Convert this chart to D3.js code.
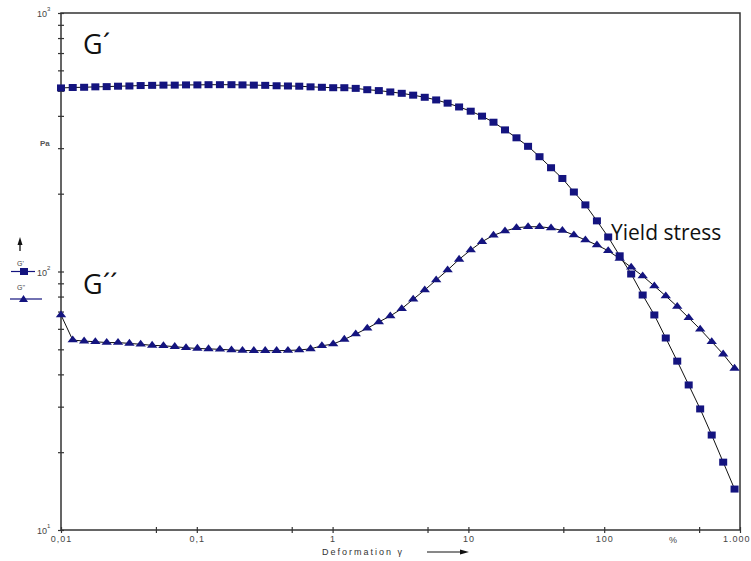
<!DOCTYPE html>
<html>
<head>
<meta charset="utf-8">
<script src="https://cdn.jsdelivr.net/npm/d3@7"></script>
<style>
  html, body { margin: 0; padding: 0; background: #fff; }
  svg { display: block; }
</style>
</head>
<body>
<svg id="chart" width="751" height="561"></svg>
<script>
// Strain amplitude sweep, deformation γ in %
const strain = [
  0.01, 0.0122, 0.0148, 0.0179, 0.0217, 0.0263, 0.0319, 0.0386, 0.0469, 0.0568, 0.0688, 0.0833,
  0.101, 0.122, 0.148, 0.180, 0.217, 0.263, 0.319, 0.387, 0.469, 0.568, 0.688, 0.834,
  1.01, 1.22, 1.48, 1.80, 2.19, 2.66, 3.23, 3.92, 4.77, 5.79, 7.03, 8.54,
  10.4, 12.6, 15.3, 18.6, 22.6, 27.5, 33.4, 40.6, 49.2, 59.8, 72.7, 88.4,
  107, 130, 158, 192, 234, 284, 345, 419, 509, 619, 752, 912
];

// Storage modulus G' in Pa
const gStorage = [
  513, 515, 516, 518, 519, 521, 522, 524, 525, 526, 526, 527,
  527, 528, 528, 528, 527, 526, 525, 523, 522, 521, 518, 516,
  514, 514, 511, 505, 501, 495, 489, 481, 472, 461, 448, 433,
  417, 399, 378, 353, 329, 305, 278, 252, 229, 203, 181, 157,
  136, 115, 97.8, 81.1, 67.9, 55.3, 45.0, 36.4, 29.4, 23.3, 18.3, 14.4
];

// Loss modulus G'' in Pa
const gLoss = [
  67.9, 54.3, 53.8, 53.5, 53.1, 53.1, 52.7, 52.3, 51.8, 51.6, 51.2, 50.7,
  50.4, 50.2, 50.0, 49.7, 49.5, 49.4, 49.4, 49.4, 49.5, 49.7, 50.2, 51.6,
  52.4, 54.6, 57.3, 60.3, 63.8, 67.3, 71.8, 78.1, 84.8, 92.7, 101.3, 111.4,
  121.1, 130.4, 138.0, 143.4, 147.7, 149.0, 149.0, 147.3, 144.1, 138.4, 132.4, 126.6,
  120.3, 112.2, 103.8, 96.1, 87.9, 80.4, 73.2, 66.2, 59.8, 53.5, 47.9, 42.2
];

// Axis ticks and labels
const xTicks = [0.01, 0.05, 0.1, 0.5, 1, 5, 10, 50, 100, 500, 1000];
const xTickLabels = { 0.01: "0,01", 0.1: "0,1", 1: "1", 10: "10", 100: "100", 1000: "1.000" };
const yTicks = [10, 20, 30, 40, 50, 60, 70, 80, 90, 100, 200, 300, 400, 500, 600, 700, 800, 900, 1000];
const yDecades = [10, 100, 1000];
const yDecadeExp = { 10: "1", 100: "2", 1000: "3" };

(function draw() {
  const markColor = "#14147f";
  const axisColor = "#333";

  const svg = d3.select("#chart");
  const plotL = 61, plotR = 740, plotT = 13, plotB = 530;

  const x = d3.scaleLog().domain([0.01, 1000]).range([plotL, plotR]);
  const y = d3.scaleLog().domain([10, 1000]).range([plotB, plotT]);

  const tickFont = "'Liberation Sans', Arial, sans-serif";

  // Plot frame
  svg.append("rect")
    .attr("x", plotL).attr("y", plotT)
    .attr("width", plotR - plotL).attr("height", plotB - plotT)
    .attr("fill", "none").attr("stroke", axisColor).attr("stroke-width", 1.5);

  // X axis
  const xAxis = svg.append("g")
    .attr("transform", `translate(0,${plotB})`)
    .call(d3.axisBottom(x).tickValues(xTicks).tickSize(3).tickFormat(d => xTickLabels[d] || ""));
  xAxis.select(".domain").remove();
  xAxis.selectAll(".tick line").attr("y1", -3).attr("y2", 3).attr("stroke", axisColor).attr("stroke-width", 1.2);
  xAxis.selectAll(".tick text")
    .attr("y", 6).attr("dy", "0.71em")
    .attr("font-family", tickFont).attr("font-size", 9).attr("letter-spacing", 1)
    .attr("fill", "#444");
  // the last label sits against the right edge
  xAxis.selectAll(".tick text").filter(d => d === 1000)
    .attr("text-anchor", "end").attr("x", 750 - plotR);

  svg.append("text")
    .attr("x", 673).attr("y", 543)
    .attr("text-anchor", "middle")
    .attr("font-family", tickFont).attr("font-size", 9).attr("fill", "#444")
    .text("%");

  // X axis title with arrow
  svg.append("text")
    .attr("x", 322).attr("y", 555)
    .attr("font-family", tickFont).attr("font-size", 9).attr("letter-spacing", 2)
    .attr("fill", "#333")
    .text("Deformation γ");
  svg.append("line")
    .attr("x1", 427).attr("x2", 462).attr("y1", 552).attr("y2", 552)
    .attr("stroke", "#111").attr("stroke-width", 1);
  svg.append("path")
    .attr("d", "M460,549.5 L469,552 L460,554.5 Z")
    .attr("fill", "#111");

  // Y axis
  const yAxis = svg.append("g")
    .attr("transform", `translate(${plotL},0)`)
    .call(d3.axisLeft(y).tickValues(yTicks).tickSize(3).tickFormat(""));
  yAxis.select(".domain").remove();
  yAxis.selectAll(".tick line").attr("x1", -3).attr("x2", 3).attr("stroke", axisColor).attr("stroke-width", 1.2);

  // Decade labels written as 10 with a raised exponent
  yDecades.forEach(v => {
    const t = svg.append("text")
      .attr("x", 37)
      .attr("y", y(v) + 4)
      .attr("font-family", tickFont).attr("font-size", 9).attr("fill", "#444");
    t.append("tspan").text("10");
    t.append("tspan").attr("dy", -6).attr("font-size", 6).text(yDecadeExp[v]);
  });

  // Unit
  svg.append("text")
    .attr("x", 40).attr("y", 146)
    .attr("font-family", tickFont).attr("font-size", 8).attr("font-weight", "bold").attr("fill", "#555")
    .text("Pa");

  // Up arrow beside the legend
  svg.append("line")
    .attr("x1", 20).attr("x2", 20).attr("y1", 251).attr("y2", 242)
    .attr("stroke", "#111").attr("stroke-width", 1.3);
  svg.append("path")
    .attr("d", "M17.5,245 L20,237 L22.5,245 Z")
    .attr("fill", "#111");

  // Legend
  svg.append("text").attr("x", 17).attr("y", 266)
    .attr("font-family", tickFont).attr("font-size", 7).attr("fill", "#444")
    .text("G'");
  svg.append("line").attr("x1", 11).attr("x2", 35).attr("y1", y(100)).attr("y2", y(100))
    .attr("stroke", markColor).attr("stroke-width", 1.2);
  svg.append("rect").attr("x", 20).attr("y", y(100) - 3.5).attr("width", 8).attr("height", 7)
    .attr("fill", markColor);

  svg.append("text").attr("x", 17).attr("y", 290)
    .attr("font-family", tickFont).attr("font-size", 7).attr("fill", "#444")
    .text("G''");
  svg.append("line").attr("x1", 10).attr("x2", 42).attr("y1", 299).attr("y2", 299)
    .attr("stroke", markColor).attr("stroke-width", 1.2);
  svg.append("path").attr("d", "M19,302 L23.5,295 L28,302 Z").attr("fill", markColor);

  // Series
  const ptsStorage = strain.map((s, i) => [s, gStorage[i]]);
  const ptsLoss = strain.map((s, i) => [s, gLoss[i]]);
  const line = d3.line().x(d => x(d[0])).y(d => y(d[1]));

  svg.append("path").datum(ptsStorage).attr("d", line)
    .attr("fill", "none").attr("stroke", "#111").attr("stroke-width", 1);
  svg.append("path").datum(ptsLoss).attr("d", line)
    .attr("fill", "none").attr("stroke", "#111").attr("stroke-width", 1);

  svg.append("g").selectAll("rect").data(ptsStorage).join("rect")
    .attr("x", d => x(d[0]) - 4).attr("y", d => y(d[1]) - 3.5)
    .attr("width", 8).attr("height", 7)
    .attr("fill", markColor);

  const tri = d3.symbol().type(d3.symbolTriangle).size(30);
  svg.append("g").selectAll("path").data(ptsLoss).join("path")
    .attr("transform", d => `translate(${x(d[0])},${y(d[1])}) scale(1.25,0.95)`)
    .attr("d", tri)
    .attr("fill", markColor);

  // Annotations
  const noteFont = "'Open Sans', 'Noto Sans', sans-serif";
  svg.append("text").attr("x", 83).attr("y", 54)
    .attr("font-family", noteFont).attr("font-size", 27).attr("fill", "#111")
    .text("G´");
  svg.append("text").attr("x", 83).attr("y", 294)
    .attr("font-family", noteFont).attr("font-size", 27).attr("fill", "#111")
    .text("G´´");
  svg.append("text").attr("x", 611).attr("y", 240)
    .attr("font-family", noteFont).attr("font-size", 21).attr("fill", "#111")
    .text("Yield stress");
})();
</script>
</body>
</html>
